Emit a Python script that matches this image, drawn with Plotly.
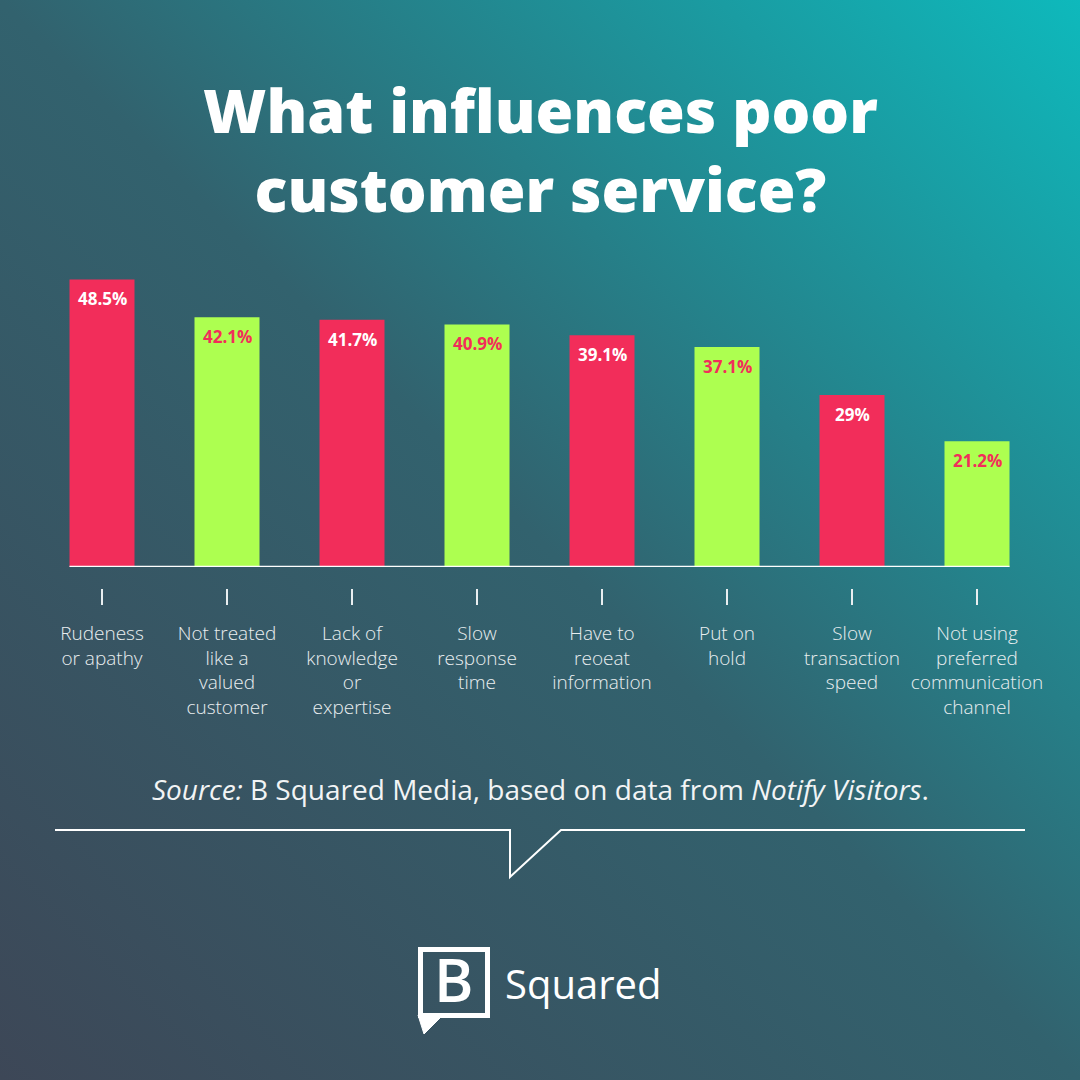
import base64
import plotly.graph_objects as go

# data
categories = [
    "Rudeness<br>or apathy",
    "Not treated<br>like a<br>valued<br>customer",
    "Lack of<br>knowledge<br>or<br>expertise",
    "Slow<br>response<br>time",
    "Have to<br>reoeat<br>information",
    "Put on<br>hold",
    "Slow<br>transaction<br>speed",
    "Not using<br>preferred<br>communication<br>channel",
]
values = [48.5, 42.1, 41.7, 40.9, 39.1, 37.1, 29, 21.2]
value_labels = ["48.5%", "42.1%", "41.7%", "40.9%", "39.1%", "37.1%", "29%", "21.2%"]

RED = "#f22d5a"
GREEN = "#adff50"
WHITE = "#ffffff"
LABEL = "#e9eef0"
FONT = "Open Sans"

bar_colors = [RED if i % 2 == 0 else GREEN for i in range(len(values))]
text_colors = [WHITE if i % 2 == 0 else RED for i in range(len(values))]
xpos = list(range(len(values)))


# pixel -> paper helpers (canvas is 1080 x 1080)
def px(x):
    return x / 1080


def py(y):
    return 1 - y / 1080


# diagonal gradient background as an svg image
svg = (
    "<svg xmlns='http://www.w3.org/2000/svg' width='1080' height='1080'>"
    "<defs><linearGradient id='g' x1='0' y1='1' x2='1' y2='0'>"
    "<stop offset='0' stop-color='#3d4757'/>"
    "<stop offset='0.5' stop-color='#32626e'/>"
    "<stop offset='1' stop-color='#0eb9bc'/>"
    "</linearGradient></defs>"
    "<rect width='1080' height='1080' fill='url(#g)'/></svg>"
)
bg_src = "data:image/svg+xml;base64," + base64.b64encode(svg.encode()).decode()

fig = go.Figure()

fig.add_trace(go.Bar(
    x=xpos,
    y=values,
    width=0.52,
    marker=dict(color=bar_colors, line=dict(width=0)),
    hoverinfo="skip",
))

# invisible trace so the tick/label axis (x2) gets drawn
fig.add_trace(go.Scatter(
    x=xpos, y=values, xaxis="x2", yaxis="y",
    mode="markers", marker=dict(opacity=0), hoverinfo="skip",
))

# value labels just inside the top of each bar
for i, v in enumerate(values):
    fig.add_annotation(
        x=i, y=v, xref="x", yref="y",
        text="<b>" + value_labels[i] + "</b>",
        showarrow=False, xanchor="center", yanchor="top", yshift=-6,
        font=dict(family=FONT, size=17, color=text_colors[i]),
    )

# baseline under the bars
fig.add_shape(type="line", xref="x", yref="y",
              x0=-0.26, x1=7.26, y0=0, y1=0,
              line=dict(color=WHITE, width=2.5))

# title
fig.add_annotation(x=0.5, y=py(149), xref="paper", yref="paper",
                   text="What influences poor<br>customer service?",
                   showarrow=False, xanchor="center", yanchor="middle",
                   font=dict(family=FONT, size=61, color=WHITE, weight=800))

# source line
fig.add_annotation(x=0.5, y=py(789), xref="paper", yref="paper",
                   text="<i>Source:</i> B Squared Media, based on data from <i>Notify Visitors</i>.",
                   showarrow=False, xanchor="center", yanchor="middle",
                   font=dict(family=FONT, size=28, color="#f2f4f5"))

# speech bubble divider
bubble = "M {},{} L {},{} L {},{} L {},{} L {},{}".format(
    px(55), py(830), px(510), py(830), px(510), py(877),
    px(561), py(830), px(1025), py(830))
fig.add_shape(type="path", xref="paper", yref="paper", path=bubble,
              line=dict(color=WHITE, width=2))

# logo
fig.add_shape(type="rect", xref="paper", yref="paper",
              x0=px(420.5), x1=px(487.5), y0=py(949.5), y1=py(1015.5),
              line=dict(color=WHITE, width=5))
tail = "M {},{} L {},{} L {},{} Z".format(
    px(418), py(1015), px(424), py(1034), px(443), py(1015))
fig.add_shape(type="path", xref="paper", yref="paper", path=tail,
              fillcolor=WHITE, line=dict(color=WHITE, width=1))
fig.add_annotation(x=px(454), y=py(979), xref="paper", yref="paper",
                   text="B", showarrow=False, xanchor="center", yanchor="middle",
                   font=dict(family=FONT, size=60, color=WHITE, weight=600))
fig.add_annotation(x=px(583), y=py(983), xref="paper", yref="paper",
                   text="Squared", showarrow=False, xanchor="center", yanchor="middle",
                   font=dict(family=FONT, size=40, color=WHITE))

fig.add_layout_image(dict(
    source=bg_src, xref="paper", yref="paper", x=0, y=1,
    sizex=1, sizey=1, sizing="stretch", xanchor="left", yanchor="top",
    layer="below",
))

x_domain = [px(39.5), px(1039.5)]

fig.update_layout(
    width=1080, height=1080,
    margin=dict(l=0, r=0, t=0, b=0),
    paper_bgcolor="#345a68",
    plot_bgcolor="rgba(0,0,0,0)",
    showlegend=False,
    xaxis=dict(domain=x_domain, range=[-0.5, 7.5], automargin=False,
               showticklabels=False, showgrid=False, zeroline=False,
               showline=False, ticks=""),
    xaxis2=dict(domain=x_domain, range=[-0.5, 7.5], overlaying="x",
                anchor="free", position=py(588), automargin=False,
                tickmode="array", tickvals=xpos, ticktext=categories,
                ticks="outside", ticklen=16, tickwidth=2, tickcolor=LABEL,
                ticklabelstandoff=12,
                tickfont=dict(family=FONT, size=19, color=LABEL, weight=300),
                showgrid=False, zeroline=False, showline=False),
    yaxis=dict(domain=[py(567), py(243)], range=[0, 324 / 5.93],
               visible=False, fixedrange=True, automargin=False),
)

# no page margin / scrollbars so the 1080px figure fills the window exactly
page_js = (
    "document.body.style.margin='0';"
    "document.body.style.overflow='hidden';"
    "document.documentElement.style.overflow='hidden';"
)
fig.write_html("out.html", config={"displayModeBar": False}, post_script=page_js)
